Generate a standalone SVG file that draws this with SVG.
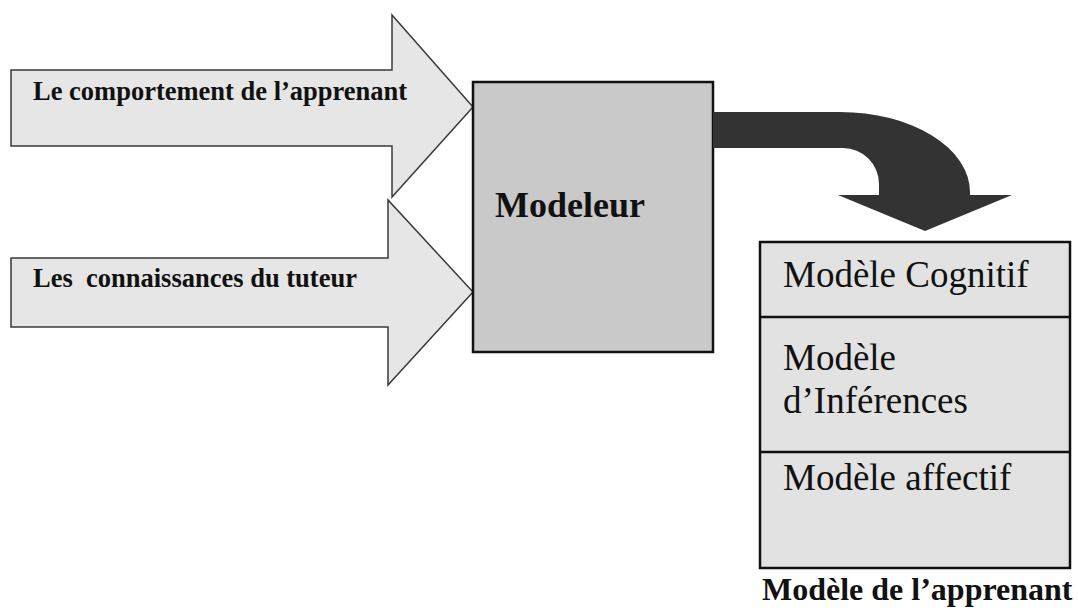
<svg xmlns="http://www.w3.org/2000/svg" width="1078" height="614" viewBox="0 0 1078 614">
  <style>
    .in-arrow { fill: #e6e6e6; stroke: #3a3a3a; stroke-width: 1.5; stroke-linejoin: miter; }
    .lbl-b { font-family: 'Liberation Serif', 'DejaVu Serif', serif; font-weight: bold; fill: #111; }
    .lbl { font-family: 'Liberation Serif', 'DejaVu Serif', serif; fill: #111; }
    .box { stroke: #111; stroke-width: 2.5; }
  </style>
  <rect width="1078" height="614" fill="#ffffff"/>

  <!-- input arrows -->
  <g id="input-comportement">
    <polygon class="in-arrow" points="11,70 392,70 392,15 473,107 392,197 392,146 11,146"/>
    <text class="lbl-b" x="33" y="100" font-size="26.5">Le comportement de l’apprenant</text>
  </g>
  <g id="input-connaissances">
    <polygon class="in-arrow" points="11,258 388,258 388,200 473,292 388,385 388,327 11,327"/>
    <text class="lbl-b" x="33" y="287" font-size="26.5" xml:space="preserve">Les  connaissances du tuteur</text>
  </g>

  <!-- modeller -->
  <g id="modeleur">
    <rect class="box" x="473" y="82" width="240" height="270" fill="#c9c9c9"/>
    <text class="lbl-b" x="495" y="217" font-size="36">Modeleur</text>
  </g>

  <!-- output connector -->
  <g id="connectors">
    <path d="M713,112 L840,112 A130,80 0 0 1 970,192 L970,195 L1012,195 L925,231 L838,195 L879,195 L879,184 A36,36 0 0 0 843,148 L713,148 Z" fill="#333333"/>
  </g>

  <!-- learner model -->
  <g id="modele-apprenant">
    <rect class="box" x="760" y="242" width="310" height="326" fill="#e2e2e2"/>
    <line x1="760" y1="317" x2="1070" y2="317" stroke="#111" stroke-width="2.5"/>
    <line x1="760" y1="452" x2="1070" y2="452" stroke="#111" stroke-width="2.5"/>
    <text class="lbl" x="783" y="287" font-size="37">Modèle Cognitif</text>
    <text class="lbl" x="783" y="370" font-size="37">Modèle</text>
    <text class="lbl" x="783" y="413" font-size="37">d’Inférences</text>
    <text class="lbl" x="783" y="490" font-size="37">Modèle affectif</text>
    <text class="lbl-b" x="762" y="600" font-size="32">Modèle de l’apprenant</text>
  </g>
</svg>
